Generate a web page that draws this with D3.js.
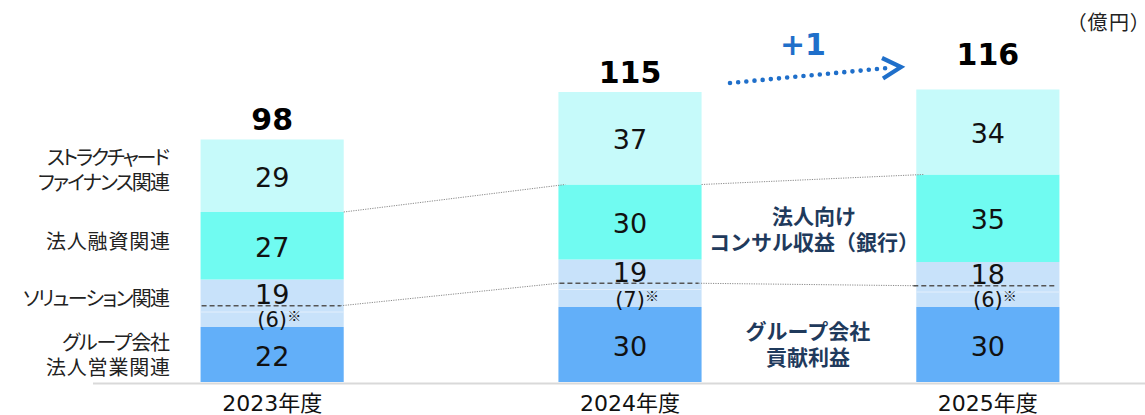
<!DOCTYPE html>
<html>
<head>
<meta charset="utf-8">
<script src="https://cdn.jsdelivr.net/npm/d3@7"></script>
<style>
  body { margin: 0; background: #fff; }
  svg { display: block; }
  .jp { font-family: "Noto Sans CJK JP", sans-serif; }
  .palt { font-feature-settings: "palt"; }
  .num { font-family: "DejaVu Sans", "Noto Sans CJK JP", sans-serif; }
</style>
</head>
<body>
<svg id="chart" width="1145" height="415"></svg>
<script>
// data
const years = ["2023年度", "2024年度", "2025年度"];
const groupSales = [22, 30, 30];       // グループ会社 法人営業関連
const solution = [19, 19, 18];         // ソリューション関連
const solutionGroup = [6, 7, 6];       // (内 グループ会社分)
const corpLoan = [27, 30, 35];         // 法人融資関連
const structured = [29, 37, 34];       // ストラクチャードファイナンス関連
const totals = [98, 115, 116];
const diffLabel = "+1";
const unitLabel = "（億円）";

const seriesKeys = ["groupSales", "solution", "corpLoan", "structured"];
const seriesLabels = [
  ["グループ会社", "法人営業関連"],
  ["ソリューション関連"],
  ["法人融資関連"],
  ["ストラクチャード", "ファイナンス関連"]
];
// rendered widths of the legend lines (layout only)
const legendWidths = [[108, 124], [147], [124], [123, 132]];
const seriesColors = ["#62AFF9", "#C8E2FA", "#70FBF1", "#C6FAFA"];

const rows = years.map((y, i) => ({
  year: y,
  groupSales: groupSales[i],
  solution: solution[i],
  corpLoan: corpLoan[i],
  structured: structured[i],
  sub: solutionGroup[i],
  total: totals[i]
}));

const svg = d3.select("#chart");
const baseY = 382;

const x = d3.scaleBand()
  .domain(years)
  .range([129, 1131])
  .paddingInner(0.6)
  .paddingOuter(0.2);

const y = d3.scaleLinear()
  .domain([0, 100])
  .range([baseY, baseY - 250]);

const stack = d3.stack().keys(seriesKeys)(rows);

// axis baseline
svg.append("line")
  .attr("x1", 93).attr("x2", 1145)
  .attr("y1", baseY + 1.5).attr("y2", baseY + 1.5)
  .attr("stroke", "#d9d9d9").attr("stroke-width", 2);

// bars
stack.forEach((layer, li) => {
  svg.append("g").selectAll("rect")
    .data(layer)
    .enter().append("rect")
    .attr("x", d => x(d.data.year))
    .attr("y", d => y(d[1]))
    .attr("width", x.bandwidth())
    .attr("height", d => y(d[0]) - y(d[1]))
    .attr("fill", seriesColors[li]);
});

const solLayer = stack[1];
const dashY = d => y(d[0] + d.data.sub + 2.5);

// faint sub boundary inside solution segment
svg.append("g").selectAll("line")
  .data(solLayer)
  .enter().append("line")
  .attr("x1", d => x(d.data.year))
  .attr("x2", d => x(d.data.year) + x.bandwidth())
  .attr("y1", d => y(d[0] + d.data.sub))
  .attr("y2", d => y(d[0] + d.data.sub))
  .attr("stroke", "#e3effc").attr("stroke-width", 1);

// dotted connectors between bars
const loanLayer = stack[2];
for (let i = 0; i < years.length - 1; i++) {
  const a = loanLayer[i], b = loanLayer[i + 1];
  svg.append("line")
    .attr("x1", x(a.data.year) + x.bandwidth()).attr("y1", y(a[1]))
    .attr("x2", x(b.data.year) + 7).attr("y2", y(b[1]))
    .attr("stroke", "#8a8a8a").attr("stroke-width", 1)
    .attr("stroke-dasharray", "1.2,1.2");
  const s = solLayer[i], t = solLayer[i + 1];
  svg.append("line")
    .attr("x1", x(s.data.year) + x.bandwidth() - 3).attr("y1", dashY(s))
    .attr("x2", x(t.data.year)).attr("y2", dashY(t))
    .attr("stroke", "#8a8a8a").attr("stroke-width", 1)
    .attr("stroke-dasharray", "1.2,1.2");
}

// dashed divider in solution segment
svg.append("g").selectAll("line")
  .data(solLayer)
  .enter().append("line")
  .attr("x1", (d, i) => x(d.data.year) + (i === 2 ? -3 : 1))
  .attr("x2", d => x(d.data.year) + x.bandwidth() - 3)
  .attr("y1", dashY).attr("y2", dashY)
  .attr("stroke", "#555").attr("stroke-width", 1.3)
  .attr("stroke-dasharray", "5,3");

// segment value labels
const cx = d => x(d.data.year) + x.bandwidth() / 2;
[0, 2, 3].forEach(li => {
  svg.append("g").selectAll("text")
    .data(stack[li])
    .enter().append("text")
    .attr("class", "num")
    .attr("x", cx)
    .attr("y", d => (y(d[0]) + y(d[1])) / 2 + 11)
    .attr("text-anchor", "middle")
    .attr("font-size", 27)
    .attr("fill", "#111")
    .text(d => d[1] - d[0]);
});

svg.append("g").selectAll("text")
  .data(solLayer)
  .enter().append("text")
  .attr("class", "num")
  .attr("x", cx)
  .attr("y", d => dashY(d) - 1.5)
  .attr("text-anchor", "middle")
  .attr("font-size", 27)
  .attr("fill", "#111")
  .text(d => d[1] - d[0]);

const subG = svg.append("g").selectAll("g")
  .data(solLayer)
  .enter().append("g");
subG.append("text")
  .attr("class", "num")
  .attr("x", cx)
  .attr("y", d => y(d[0]) - 0.5)
  .attr("text-anchor", "middle")
  .attr("font-size", 21)
  .attr("fill", "#111")
  .text(d => `(${d.data.sub})`);
subG.append("text")
  .attr("class", "jp")
  .attr("x", d => cx(d) + 15)
  .attr("y", d => y(d[0]) - 6)
  .attr("font-size", 14)
  .attr("fill", "#111")
  .text("※");

// totals
const totalLift = [8, 9, 25];
svg.append("g").selectAll("text")
  .data(stack[3])
  .enter().append("text")
  .attr("class", "num")
  .attr("x", cx)
  .attr("y", (d, i) => y(d[1]) - totalLift[i] + (i === 0 ? -2 : 0))
  .attr("text-anchor", "middle")
  .attr("font-size", 30)
  .attr("font-weight", "bold")
  .attr("fill", "#000")
  .text((d, i) => totals[i]);

// x axis labels
svg.append("g").selectAll("text")
  .data(years)
  .enter().append("text")
  .attr("class", "num")
  .attr("x", d => x(d) + x.bandwidth() / 2)
  .attr("y", 411)
  .attr("text-anchor", "middle")
  .attr("font-size", 22)
  .attr("fill", "#111")
  .text(d => d);

// left legend labels, centred on the first bar's segments
const first = stack.map(layer => layer[0]);
const legendCenters = [
  (y(first[0][0]) + y(first[0][1])) / 2 + 1,
  (y(first[1][1]) + dashY(first[1])) / 2 + 6,
  (y(first[2][0]) + y(first[2][1])) / 2 - 4,
  (y(first[3][0]) + y(first[3][1])) / 2 - 5
];
seriesLabels.forEach((lines, li) => {
  lines.forEach((ln, k) => {
    svg.append("text")
      .attr("class", "jp palt")
      .attr("text-anchor", "end")
      .attr("font-size", 20)
      .attr("fill", "#222")
      .attr("x", 170)
      .attr("y", legendCenters[li] + 7 + (k - (lines.length - 1) / 2) * 25)
      .attr("textLength", legendWidths[li][k])
      .attr("lengthAdjust", "spacing")
      .text(ln);
  });
});

// in-chart annotations
const midX = (x(years[1]) + x.bandwidth() + x(years[2])) / 2 - 4;
function note(lines, cy, dx) {
  const t = svg.append("text")
    .attr("class", "jp")
    .attr("text-anchor", "middle")
    .attr("font-size", 21)
    .attr("font-weight", "bold")
    .attr("fill", "#1f3a5c");
  lines.forEach((ln, k) => {
    t.append("tspan")
      .attr("x", midX + dx)
      .attr("y", cy + 7 + (k - (lines.length - 1) / 2) * 26)
      .text(ln);
  });
}
note(["法人向け", "コンサル収益（銀行）"], 230, 9);
note(["グループ会社", "貢献利益"], 345, 3);

// +1 arrow
const blue = "#1f6fca";
svg.append("line")
  .attr("x1", 730).attr("y1", 83)
  .attr("x2", 893).attr("y2", 67.5)
  .attr("stroke", blue).attr("stroke-width", 4.6)
  .attr("stroke-linecap", "round")
  .attr("stroke-dasharray", "0,8.2");
svg.append("polyline")
  .attr("points", "882,58 901,67 883,78.5")
  .attr("fill", "none").attr("stroke", blue).attr("stroke-width", 4.2)
  .attr("stroke-linejoin", "miter");
svg.append("text")
  .attr("class", "num")
  .attr("x", 803).attr("y", 55)
  .attr("text-anchor", "middle")
  .attr("font-size", 30).attr("font-weight", "bold")
  .attr("fill", blue)
  .text(diffLabel);

// unit
svg.append("text")
  .attr("class", "jp palt")
  .attr("x", 1142).attr("y", 30)
  .attr("text-anchor", "end")
  .attr("font-size", 20)
  .attr("letter-spacing", 1.5)
  .attr("fill", "#222")
  .text(unitLabel);
</script>
</body>
</html>
